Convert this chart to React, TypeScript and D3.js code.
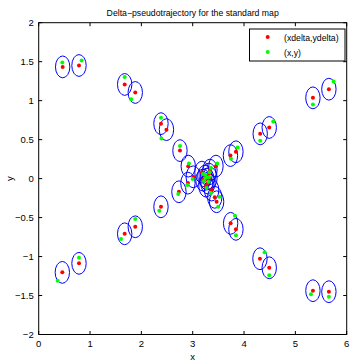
import React from "react";
import * as d3 from "d3";

const W = 350;
const H = 362;

// pseudo-trajectory points (xdelta, ydelta)
const xdelta = [
  0.467, 0.785, 1.675, 1.881, 2.382, 2.489, 2.752, 2.913, 3.01,
  5.653, 5.342, 4.491, 4.315, 3.842, 3.735, 3.453, 3.336,
  0.46, 0.785, 1.675, 1.881, 2.382, 2.732, 2.907,
  5.653, 5.342, 4.491, 4.31, 3.842, 3.739, 3.43, 3.466, 3.369,
  3.18, 3.238, 3.277, 3.297, 3.258, 3.336, 3.2, 3.316,
];
const ydelta = [
  1.433, 1.451, 1.208, 1.105, 0.705, 0.628, 0.359, 0.16, 0.023,
  1.147, 1.036, 0.656, 0.574, 0.344, 0.295, 0.16, 0.109,
  -1.203, -1.087, -0.708, -0.618, -0.362, -0.169, -0.058,
  -1.451, -1.438, -1.144, -1.028, -0.651, -0.574, -0.24, -0.297, -0.147,
  0.083, 0.032, -0.006, -0.058, -0.096, 0.006, -0.019, 0.058,
];
// true orbit points (x, y)
const xs = [
  0.46, 0.837, 1.675, 1.803, 2.382, 2.391, 2.752, 2.927, 2.999,
  5.745, 5.342, 4.569, 4.315, 3.875, 3.745, 3.478, 3.355,
  0.37, 0.785, 1.603, 1.881, 2.349, 2.719, 2.894,
  5.653, 5.303, 4.491, 4.401, 3.842, 3.823, 3.52, 3.497, 3.355,
  3.2, 3.25, 3.26, 3.31, 3.27, 3.32, 3.22, 3.33,
];
const ys = [
  1.49, 1.515, 1.305, 1.019, 0.782, 0.513, 0.417, 0.195, -0.006,
  1.246, 0.951, 0.733, 0.485, 0.4, 0.256, 0.195, 0.135,
  -1.31, -1.015, -0.776, -0.519, -0.413, -0.199, -0.083,
  -1.515, -1.485, -1.241, -0.946, -0.728, -0.477, -0.233, -0.362, -0.186,
  0.06, 0.05, 0.01, -0.04, -0.12, 0.02, -0.03, 0.08,
];
const delta = 0.14;

const xTicks = [0, 1, 2, 3, 4, 5, 6];
const yTicks = [-2, -1.5, -1, -0.5, 0, 0.5, 1, 1.5, 2];
const legendLabels = ["(xdelta,ydelta)", "(x,y)"];
const titleText = "Delta\u2212pseudotrajectory for the standard map";

const RED = "#ff0000";
const GREEN = "#00ff00";
const BLUE = "#0000ff";
const FONT = "'Liberation Sans', Arial, Helvetica, sans-serif";

export default function App() {
  const x = d3.scaleLinear().domain([0, 6]).range([38.7, 346.7]);
  const y = d3.scaleLinear().domain([-2, 2]).range([334.5, 22.7]);
  const [x0, x1] = x.range();
  const [y0, y1] = y.range();
  const rx = x(delta) - x(0);
  const ry = y(0) - y(delta);
  const fmt = (v: number) => d3.format("")(v);
  const tl = 3.5;
  const fs = 8.7;
  const tfs = 9.5;

  return (
    <svg
      width={W}
      height={H}
      style={{ position: "absolute", left: 0, top: 0, background: "#fff" }}
      fontFamily={FONT}
    >
      <rect x={0} y={0} width={W} height={H} fill="#fff" />
      {/* circles */}
      {xdelta.map((d, i) => (
        <ellipse
          key={"c" + i}
          cx={x(d)}
          cy={y(ydelta[i])}
          rx={rx}
          ry={ry}
          fill="none"
          stroke={BLUE}
          strokeWidth={1}
        />
      ))}
      {xdelta.map((d, i) => (
        <circle key={"r" + i} cx={x(d)} cy={y(ydelta[i])} r={2} fill={RED} />
      ))}
      {xs.map((d, i) => (
        <circle key={"g" + i} cx={x(d)} cy={y(ys[i])} r={2} fill={GREEN} />
      ))}

      {/* axes box */}
      <rect
        x={x0}
        y={y1}
        width={x1 - x0}
        height={y0 - y1}
        fill="none"
        stroke="#000"
        strokeWidth={1}
      />
      {xTicks.map((t) => (
        <g key={"xt" + t}>
          <line x1={x(t)} x2={x(t)} y1={y0} y2={y0 - tl} stroke="#000" />
          <line x1={x(t)} x2={x(t)} y1={y1} y2={y1 + tl} stroke="#000" />
          <text
            x={x(t)}
            y={y0 + 12}
            fontSize={tfs}
            textAnchor="middle"
            fill="#000"
          >
            {fmt(t)}
          </text>
        </g>
      ))}
      {yTicks.map((t) => (
        <g key={"yt" + t}>
          <line x1={x0} x2={x0 + tl} y1={y(t)} y2={y(t)} stroke="#000" />
          <line x1={x1} x2={x1 - tl} y1={y(t)} y2={y(t)} stroke="#000" />
          <text
            x={x0 - 5}
            y={y(t) + 3.3}
            fontSize={tfs}
            textAnchor="end"
            fill="#000"
          >
            {fmt(t)}
          </text>
        </g>
      ))}

      {/* title and axis labels */}
      <text
        x={(x0 + x1) / 2}
        y={16}
        fontSize={fs}
        textAnchor="middle"
        fill="#000"
      >
        {titleText}
      </text>
      <text
        x={(x0 + x1) / 2}
        y={360}
        fontSize={tfs}
        textAnchor="middle"
        fill="#000"
      >
        x
      </text>
      <text
        transform={`translate(13,${(y0 + y1) / 2}) rotate(-90)`}
        fontSize={tfs}
        textAnchor="middle"
        fill="#000"
      >
        y
      </text>

      {/* legend */}
      <g>
        <rect
          x={249.5}
          y={29}
          width={95.5}
          height={32}
          fill="#fff"
          stroke="#000"
          strokeWidth={1}
        />
        {legendLabels.map((l, i) => (
          <g key={l}>
            <circle
              cx={267.7}
              cy={37 + i * 15}
              r={2}
              fill={i === 0 ? RED : GREEN}
            />
            <text x={284} y={40.5 + i * 15} fontSize={fs} fill="#000">
              {l}
            </text>
          </g>
        ))}
      </g>
    </svg>
  );
}
